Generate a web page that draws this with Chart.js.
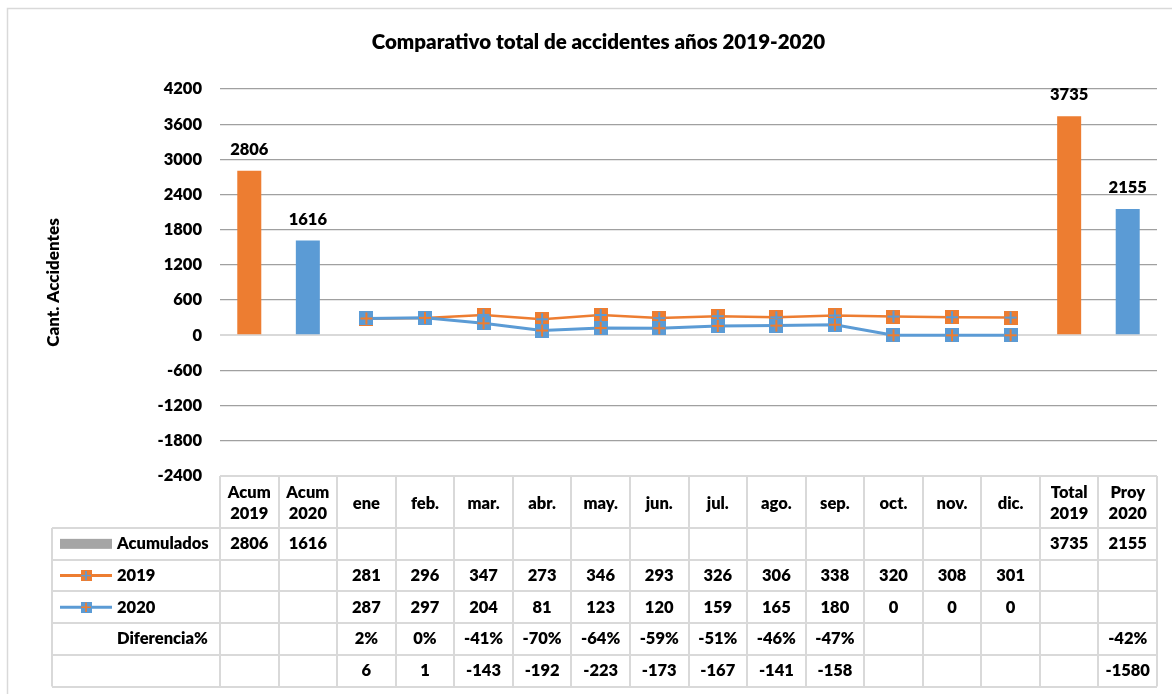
<!DOCTYPE html>
<html>
<head>
<meta charset="utf-8">
<script src="https://cdn.jsdelivr.net/npm/chart.js@4.4.1/dist/chart.umd.min.js"></script>
<style>
  body { margin: 0; background: #fff; }
  canvas { display: block; }
</style>
</head>
<body>
<canvas id="grafica" width="1172" height="694"></canvas>
<script>
// categorías del eje X (las de dos líneas van como arreglo)
const categorias = [
  ['Acum', '2019'], ['Acum', '2020'], 'ene', 'feb.', 'mar.', 'abr.', 'may.', 'jun.',
  'jul.', 'ago.', 'sep.', 'oct.', 'nov.', 'dic.', ['Total', '2019'], ['Proy', '2020']
];
// acumulados (barras)
const acumulados = [2806, 1616, null, null, null, null, null, null, null, null, null, null, null, null, 3735, 2155];
// accidentes por mes
const serie2019 = [null, null, 281, 296, 347, 273, 346, 293, 326, 306, 338, 320, 308, 301, null, null];
const serie2020 = [null, null, 287, 297, 204, 81, 123, 120, 159, 165, 180, 0, 0, 0, null, null];
// filas extra de la tabla
const diferenciaPct = [null, null, 2, 0, -41, -70, -64, -59, -51, -46, -47, null, null, null, null, -42];
const diferencia = [null, null, 6, 1, -143, -192, -223, -173, -167, -141, -158, null, null, null, null, -1580];
// eje Y
const ejeMin = -2400;
const ejeMax = 4200;
const ejePaso = 600;

const NARANJA = '#ED7D31';
const AZUL = '#5B9BD5';
const GRIS = '#A5A5A5';
const BORDE = '#D9D9D9';
const FUENTE = 'Lato, "Open Sans", sans-serif';
const TAM = 16.5;
const PESO = '800';

// marcador cuadrado con una cruz del otro color
function hacerMarcador(relleno, cruz, lado) {
  const c = document.createElement('canvas');
  c.width = lado; c.height = lado;
  const g = c.getContext('2d');
  g.fillStyle = relleno;
  g.fillRect(0, 0, lado, lado);
  g.strokeStyle = cruz;
  g.lineWidth = 2;
  const m = lado / 2;
  g.beginPath();
  g.moveTo(m, 1); g.lineTo(m, lado - 1);
  g.moveTo(1, m); g.lineTo(lado - 1, m);
  g.stroke();
  return c;
}
const marca2019 = hacerMarcador(NARANJA, AZUL, 14);
const marca2020 = hacerMarcador(AZUL, NARANJA, 14);

const coloresBarras = acumulados.map((v, i) => (i % 2 === 0 ? NARANJA : AZUL));

// borde exterior del gráfico
const marcoPlugin = {
  id: 'marco',
  beforeDraw(chart) {
    const ctx = chart.ctx;
    ctx.save();
    ctx.fillStyle = '#fff';
    ctx.fillRect(0, 0, chart.width, chart.height);
    ctx.strokeStyle = BORDE;
    ctx.lineWidth = 1.5;
    ctx.strokeRect(7.5, 8.5, 1200, 720);
    ctx.restore();
  }
};

// etiquetas encima de las barras
const etiquetasPlugin = {
  id: 'etiquetas',
  afterDatasetsDraw(chart) {
    const ctx = chart.ctx;
    const meta = chart.getDatasetMeta(2);
    ctx.save();
    ctx.font = PESO + ' ' + TAM + 'px ' + FUENTE;
    ctx.fillStyle = '#000';
    ctx.textAlign = 'center';
    ctx.textBaseline = 'alphabetic';
    meta.data.forEach((bar, i) => {
      if (acumulados[i] == null) return;
      ctx.fillText(String(acumulados[i]), bar.x, bar.y - 16);
    });
    ctx.restore();
  }
};

// tabla de datos debajo del gráfico
const tablaPlugin = {
  id: 'tabla',
  afterDraw(chart) {
    const ctx = chart.ctx;
    const x = chart.scales.x;
    const area = chart.chartArea;
    const n = categorias.length;
    const ancho = (area.right - area.left) / n;
    const izq = 52;
    const topeEnc = area.bottom;
    const fila0 = 528;
    const altoFila = 31.7;
    const nFilas = 5;
    const fondo = fila0 + altoFila * nFilas;

    ctx.save();
    ctx.strokeStyle = BORDE;
    ctx.lineWidth = 2;
    ctx.beginPath();
    // líneas verticales de columnas
    for (let i = 0; i <= n; i++) {
      const cx = Math.round(area.left + i * ancho);
      ctx.moveTo(cx, topeEnc);
      ctx.lineTo(cx, fondo);
    }
    ctx.moveTo(izq, fila0);
    ctx.lineTo(izq, fondo);
    // encabezado
    ctx.moveTo(area.left, topeEnc);
    ctx.lineTo(area.right, topeEnc);
    // filas
    for (let r = 0; r <= nFilas; r++) {
      const y = Math.round(fila0 + r * altoFila);
      ctx.moveTo(izq, y);
      ctx.lineTo(area.right, y);
    }
    ctx.stroke();

    const filas = [
      { nombre: 'Acumulados', datos: acumulados, fmt: v => String(v) },
      { nombre: '2019', datos: serie2019, fmt: v => String(v) },
      { nombre: '2020', datos: serie2020, fmt: v => String(v) },
      { nombre: 'Diferencia%', datos: diferenciaPct, fmt: v => v + '%' },
      { nombre: '', datos: diferencia, fmt: v => String(v) }
    ];

    ctx.font = PESO + ' ' + TAM + 'px ' + FUENTE;
    ctx.fillStyle = '#000';
    ctx.textBaseline = 'middle';
    filas.forEach((f, r) => {
      const yc = fila0 + r * altoFila + altoFila / 2;
      ctx.textAlign = 'left';
      ctx.fillText(f.nombre, 117, yc);
      ctx.textAlign = 'center';
      f.datos.forEach((v, i) => {
        if (v == null) return;
        ctx.fillText(f.fmt(v), x.getPixelForValue(i), yc);
      });
    });

    // claves de leyenda
    const yA = fila0 + altoFila / 2;
    ctx.fillStyle = GRIS;
    ctx.fillRect(60, yA - 5, 52, 10);
    const claves = [[NARANJA, marca2019], [AZUL, marca2020]];
    claves.forEach(([col, img], k) => {
      const y = fila0 + (k + 1) * altoFila + altoFila / 2;
      ctx.strokeStyle = col;
      ctx.lineWidth = 3;
      ctx.beginPath();
      ctx.moveTo(60, y);
      ctx.lineTo(112, y);
      ctx.stroke();
      ctx.drawImage(img, 86 - 5.5, y - 5.5, 11, 11);
    });
    ctx.restore();
  }
};

const ctx = document.getElementById('grafica').getContext('2d');
const grafica = new Chart(ctx, {
  data: {
    labels: categorias,
    datasets: [
      {
        type: 'line',
        label: '2020',
        data: serie2020,
        borderColor: AZUL,
        borderWidth: 3,
        pointStyle: marca2020,
        pointRadius: 7,
        tension: 0
      },
      {
        type: 'line',
        label: '2019',
        data: serie2019,
        borderColor: NARANJA,
        borderWidth: 2.5,
        pointStyle: marca2019,
        pointRadius: 7,
        tension: 0
      },
      {
        type: 'bar',
        label: 'Acumulados',
        data: acumulados,
        backgroundColor: coloresBarras,
        barPercentage: 0.41,
        categoryPercentage: 1
      }
    ]
  },
  options: {
    responsive: false,
    animation: false,
    devicePixelRatio: 1,
    layout: { padding: { left: 40, right: 15, top: 0, bottom: 0 } },
    plugins: {
      legend: { display: false },
      tooltip: { enabled: false },
      title: {
        display: true,
        text: 'Comparativo total de accidentes años 2019-2020',
        color: '#000',
        font: { family: FUENTE, size: 20.5, weight: PESO, lineHeight: 1.2 },
        padding: { top: 42 - 12.3, bottom: 89 - 42 - 12.3 }
      }
    },
    scales: {
      x: {
        grid: { display: false },
        border: { display: false },
        ticks: {
          color: '#000',
          font: { family: FUENTE, size: TAM, weight: PESO, lineHeight: 1.27 },
          autoSkip: false,
          maxRotation: 0,
          crossAlign: 'center',
          padding: 9
        },
        afterFit(scale) { scale.height = 694 - 476; }
      },
      y: {
        min: ejeMin,
        max: ejeMax,
        border: { display: false },
        grid: {
          drawTicks: false,
          color: c => (c.tick && (c.tick.value === 0 || c.tick.value === ejeMin) ? BORDE : '#A0A0A0'),
          lineWidth: c => (c.tick && c.tick.value === 0 ? 2 : 1.2)
        },
        ticks: {
          stepSize: ejePaso,
          color: '#000',
          padding: 18,
          font: { family: FUENTE, size: TAM, weight: PESO },
          callback: v => String(v)
        },
        title: {
          display: true,
          text: 'Cant. Accidentes',
          color: '#000',
          font: { family: FUENTE, size: 17, weight: PESO, lineHeight: 1.2 },
          padding: { top: 54 - 40 - 10.2, bottom: 0 }
        },
        afterFit(scale) { scale.width = 220 - 40; }
      }
    }
  },
  plugins: [marcoPlugin, etiquetasPlugin, tablaPlugin]
});
</script>
</body>
</html>
